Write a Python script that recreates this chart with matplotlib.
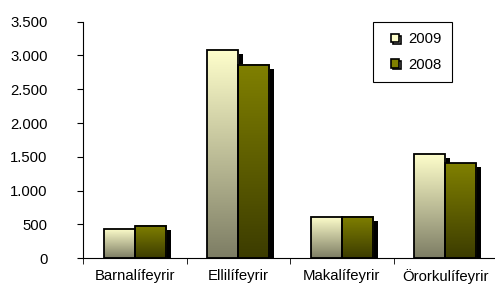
import matplotlib
matplotlib.use("Agg")
import matplotlib.pyplot as plt
import matplotlib.transforms as mtransforms
import matplotlib.patheffects as pe
from matplotlib.colors import LinearSegmentedColormap
from matplotlib.lines import Line2D
import numpy as np

categories = ["Barnalífeyrir", "Ellilífeyrir", "Makalífeyrir", "Örorkulífeyrir"]
series_names = ["2009", "2008"]
values_2009 = [430, 3080, 615, 1540]
values_2008 = [475, 2860, 615, 1405]
yticks = [0, 500, 1000, 1500, 2000, 2500, 3000, 3500]
ytick_labels = ["0", "500", "1.000", "1.500", "2.000", "2.500", "3.000", "3.500"]

plt.rcParams['font.family'] = ['Liberation Sans', 'DejaVu Sans']

fig = plt.figure(figsize=(4.95, 2.87), dpi=100)
ax = fig.add_axes([83/495, 0.1, 414/495, 0.8244])

cmap09 = LinearSegmentedColormap.from_list("c09", ["#7d7d64", "#ffffcc"])
cmap08 = LinearSegmentedColormap.from_list("c08", ["#3c3c00", "#808000"])

w = 0.3
x = np.arange(len(categories))
shadow = mtransforms.offset_copy(ax.transData, fig=fig, x=5, y=-4, units='dots')

grad = np.linspace(0, 1, 256).reshape(-1, 1)
for vals, off, cmap in [(values_2009, -w/2, cmap09), (values_2008, w/2, cmap08)]:
    ax.bar(x + off, vals, w, facecolor='black', edgecolor='none',
           transform=shadow, zorder=1)
    for xi, v in zip(x + off, vals):
        ax.imshow(grad, cmap=cmap, origin='lower', aspect='auto',
                  extent=[xi - w/2, xi + w/2, 0, v], zorder=2)
    ax.bar(x + off, vals, w, facecolor='none', edgecolor='black',
           linewidth=1.3, zorder=3)

ax.set_xlim(-0.5, 3.5)
ax.set_ylim(0, 3500)
ax.set_yticks(yticks)
ax.set_yticklabels(ytick_labels, fontsize=10.7)
ax.set_xticks(x)
ax.set_xticklabels(categories, fontsize=10.7)
ax.set_xticks(np.arange(-0.5, 3.6, 1), minor=True)
ax.tick_params(axis='x', which='major', length=0, pad=7.5)
ax.tick_params(axis='x', which='minor', length=4, direction='out')
ax.tick_params(axis='y', length=4, direction='out', pad=21.5)
for s in ['top', 'right']:
    ax.spines[s].set_visible(False)

shadow_fx = [pe.SimpleLineShadow(offset=(1.2, -1.2), shadow_color='black', alpha=1),
             pe.Normal()]
handles = [Line2D([], [], marker='s', linestyle='none', markersize=6,
                  markerfacecolor="#ffffcc", markeredgecolor='black',
                  markeredgewidth=1.2, path_effects=shadow_fx),
           Line2D([], [], marker='s', linestyle='none', markersize=6,
                  markerfacecolor="#808000", markeredgecolor='black',
                  markeredgewidth=1.2, path_effects=shadow_fx)]
leg = fig.legend(handles, series_names, loc='upper left',
                 bbox_to_anchor=(373/495, 1 - 22/287), borderaxespad=0,
                 fancybox=False, framealpha=1, edgecolor='black', fontsize=10.7,
                 handlelength=1.6, handletextpad=0.1,
                 labelspacing=0.75, borderpad=0.7)
leg.get_frame().set_linewidth(0.8)

fig.savefig("out.png", dpi=100)
